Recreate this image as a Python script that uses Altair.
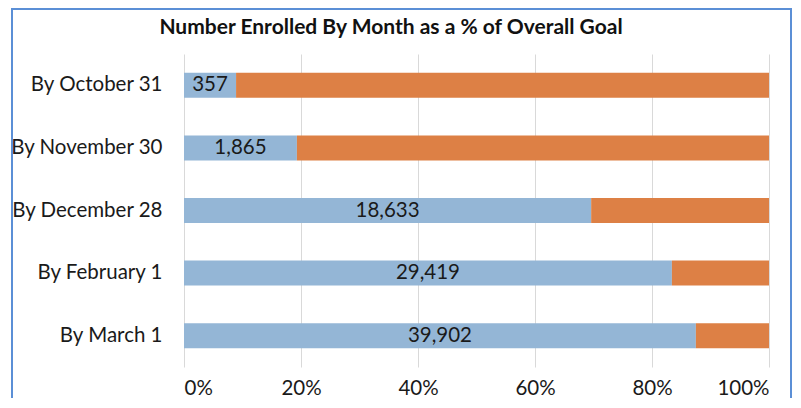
import altair as alt
import pandas as pd

categories = ["By October 31", "By November 30", "By December 28", "By February 1", "By March 1"]
enrolled = [357, 1865, 18633, 29419, 39902]
enrolled_pct = [8.9, 19.3, 69.6, 83.4, 87.5]
remaining_pct = [91.1, 80.7, 30.4, 16.6, 12.5]
x_ticks = [0, 20, 40, 60, 80, 100]
title_text = "Number Enrolled By Month as a % of Overall Goal"

FONT = "Lato"
BLUE = "#94B6D6"
ORANGE = "#DD8045"
BORDER = "#5B8FD6"
FS = 20.5

rows = []
for c, n, e, r in zip(categories, enrolled, enrolled_pct, remaining_pct):
    rows.append({"cat": c, "seg": "Enrolled", "pct": e, "ord": 0, "n": n})
    rows.append({"cat": c, "seg": "Remaining", "pct": r, "ord": 1, "n": n})
df = pd.DataFrame(rows)

lab = pd.DataFrame({"cat": categories, "n": enrolled, "e": enrolled_pct})

W, H = 585, 313

y_enc = alt.Y("cat:N", sort=categories, title=None,
              axis=alt.Axis(domain=False, ticks=False, grid=False, labelFont=FONT,
                            labelFontSize=FS, labelColor="#1a1a1a", labelPadding=22,
                            labelLimit=300))

bars = alt.Chart(df).mark_bar(size=25).encode(
    x=alt.X("pct:Q", stack="zero", title=None,
            scale=alt.Scale(domain=[0, 100], nice=False),
            axis=alt.Axis(values=x_ticks, labelExpr="datum.value + '%'", domain=False,
                          ticks=False, grid=True, gridColor="#d9d9d9", gridWidth=1,
                          labelFont=FONT, labelFontSize=FS, labelColor="#1a1a1a",
                          labelPadding=11)),
    y=y_enc,
    color=alt.Color("seg:N", scale=alt.Scale(domain=["Enrolled", "Remaining"], range=[BLUE, ORANGE]),
                    legend=None),
    order=alt.Order("ord:Q"),
)

texts = alt.Chart(lab).transform_calculate(
    mid="datum.e / 2"
).mark_text(font=FONT, fontSize=FS, color="#1a1a1a", baseline="middle", align="center").encode(
    x=alt.X("mid:Q"),
    y=alt.Y("cat:N", sort=categories),
    text=alt.Text("n:Q", format=","),
)

one = alt.Data(values=[{"k": 1}])
title_mark = alt.Chart(one).mark_text(font=FONT, fontSize=21, fontWeight="bold", color="#111111",
                                      align="center", baseline="middle").encode(
    x=alt.value(207), y=alt.value(-26), text=alt.value(title_text))
left_b = alt.Chart(one).mark_rule(color=BORDER, strokeWidth=2).encode(
    x=alt.value(-172), y=alt.value(-46), y2=alt.value(400))
top_b = alt.Chart(one).mark_rule(color=BORDER, strokeWidth=2).encode(
    x=alt.value(-172), x2=alt.value(607), y=alt.value(-45))
right_b = alt.Chart(one).mark_rule(color=BORDER, strokeWidth=2).encode(
    x=alt.value(607), y=alt.value(-46), y2=alt.value(400))

chart = alt.layer(bars, texts, title_mark, left_b, top_b, right_b).properties(
    width=W, height=H,
    autosize=alt.AutoSizeParams(type="none"),
    padding={"left": 176, "top": 46, "right": 24, "bottom": 31},
).configure_view(stroke=None)

chart.save("out.html", embed_options={"renderer": "svg", "actions": False})
